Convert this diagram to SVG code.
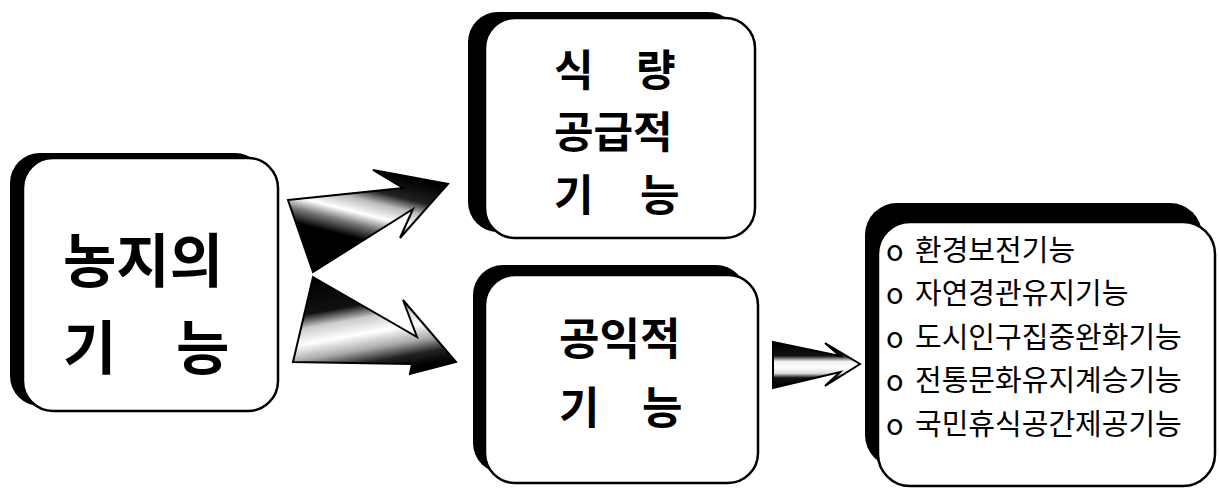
<svg xmlns="http://www.w3.org/2000/svg" width="1219" height="488" viewBox="0 0 1219 488">
<style>
.shadow{fill:#000}
.box{fill:#fff;stroke:#000;stroke-width:2.5}
.big{font-family:"Noto Sans CJK KR","Noto Sans",sans-serif;font-weight:bold;fill:#000}
.list{font-family:"Noto Sans CJK KR","Noto Sans",sans-serif;font-size:29px;fill:#000}
.arrow{stroke:#000;stroke-width:2;stroke-linejoin:miter}
</style>
<defs>
<linearGradient id="gUp" x1="0.15" y1="1" x2="0.55" y2="0">
<stop offset="0" stop-color="#000"/>
<stop offset="0.38" stop-color="#000"/>
<stop offset="0.5" stop-color="#777"/>
<stop offset="0.6" stop-color="#fff"/>
<stop offset="0.72" stop-color="#bbb"/>
<stop offset="0.82" stop-color="#222"/>
<stop offset="1" stop-color="#000"/>
</linearGradient>
<linearGradient id="gDown" x1="0.2" y1="0" x2="0.5" y2="1">
<stop offset="0" stop-color="#000"/>
<stop offset="0.32" stop-color="#111"/>
<stop offset="0.45" stop-color="#ccc"/>
<stop offset="0.6" stop-color="#fff"/>
<stop offset="0.75" stop-color="#aaa"/>
<stop offset="0.88" stop-color="#222"/>
<stop offset="1" stop-color="#000"/>
</linearGradient>
<linearGradient id="gSmall" x1="0" y1="0" x2="0" y2="1">
<stop offset="0" stop-color="#000"/>
<stop offset="0.3" stop-color="#111"/>
<stop offset="0.42" stop-color="#eee"/>
<stop offset="0.55" stop-color="#fff"/>
<stop offset="0.68" stop-color="#ddd"/>
<stop offset="0.78" stop-color="#111"/>
<stop offset="1" stop-color="#000"/>
</linearGradient>
</defs>

<g id="connectors">
<polygon class="arrow" fill="url(#gUp)" points="288,200 403,188 373,170 448,184 400,238 413,209 313,272"/>
<polygon class="arrow" fill="url(#gDown)" points="313,277 417,337 403,300 456,362 410,374 412,364 293,362"/>
<polygon class="arrow" fill="url(#gSmall)" points="773,342 840,356 825,343 860,364 825,386 840,372 773,388"/>
</g>

<g id="node-farmland">
<rect class="shadow" x="10" y="153" width="255" height="253" rx="30"/>
<rect class="box" x="23" y="158" width="255" height="253" rx="30"/>
<text class="big" font-size="58" x="63" y="282">농지의</text>
<text class="big" font-size="58" x="63" y="369">기</text>
<text class="big" font-size="58" x="176" y="369">능</text>
</g>

<g id="node-food">
<rect class="shadow" x="468" y="12" width="270" height="220" rx="30"/>
<rect class="box" x="485" y="18" width="270" height="220" rx="30"/>
<text class="big" font-size="43" x="554" y="86">식</text>
<text class="big" font-size="43" x="636" y="86">량</text>
<text class="big" font-size="43" x="554" y="148">공급적</text>
<text class="big" font-size="43" x="554" y="211">기</text>
<text class="big" font-size="43" x="640" y="211">능</text>
</g>

<g id="node-public">
<rect class="shadow" x="473" y="265" width="273" height="208" rx="30"/>
<rect class="box" x="485" y="275" width="273" height="208" rx="30"/>
<text class="big" font-size="44" x="559" y="355">공익적</text>
<text class="big" font-size="44" x="559" y="424">기</text>
<text class="big" font-size="44" x="642" y="424">능</text>
</g>

<g id="node-list">
<rect class="shadow" x="865" y="203" width="337" height="264" rx="32"/>
<rect class="box" x="878" y="222" width="337" height="264" rx="32"/>
<text class="list" x="886" y="261">o</text><text class="list" x="915" y="261">환경보전기능</text>
<text class="list" x="886" y="304">o</text><text class="list" x="915" y="304">자연경관유지기능</text>
<text class="list" x="886" y="348">o</text><text class="list" x="915" y="348">도시인구집중완화기능</text>
<text class="list" x="886" y="391">o</text><text class="list" x="915" y="391">전통문화유지계승기능</text>
<text class="list" x="886" y="435">o</text><text class="list" x="915" y="435">국민휴식공간제공기능</text>
</g>
</svg>
